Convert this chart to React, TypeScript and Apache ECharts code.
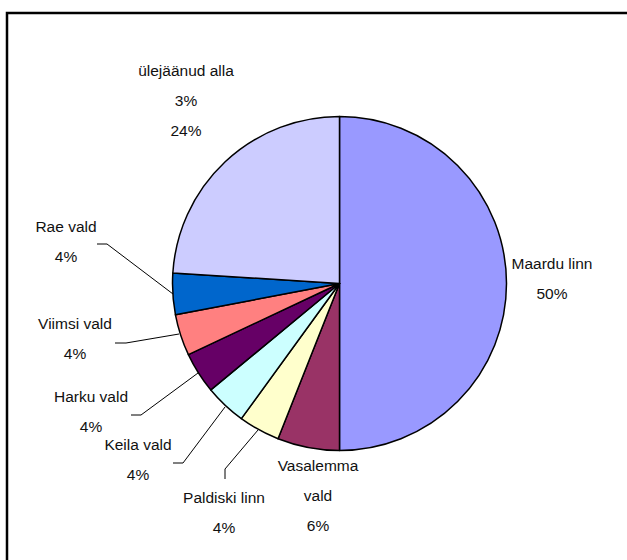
import React, { useEffect, useRef } from "react";
import * as echarts from "echarts";

const categories = [
  "Maardu linn",
  "Vasalemma vald",
  "Paldiski linn",
  "Keila vald",
  "Harku vald",
  "Viimsi vald",
  "Rae vald",
  "ülejäänud alla 3%",
];
const labelTexts = [
  "Maardu linn",
  "Vasalemma\nvald",
  "Paldiski linn",
  "Keila vald",
  "Harku vald",
  "Viimsi vald",
  "Rae vald",
  "ülejäänud alla\n3%",
];
const values = [50, 6, 4, 4, 4, 4, 4, 24];
const colors = ["#9999FF", "#993366", "#FFFFCC", "#CCFFFF", "#660066", "#FF8080", "#0066CC", "#CCCCFF"];

// label placement (center x, top y) and leader lines
const labelPos: [number, number][] = [
  [552, 248],
  [318, 450],
  [224, 482],
  [138, 429],
  [91, 381],
  [75, 308],
  [66, 211],
  [186, 55],
];
const leaderLines: ([number, number][] | null)[] = [
  null,
  null,
  [[225, 479], [225, 469], [258, 430]],
  [[173, 463], [183, 463], [225, 407]],
  [[131, 415], [141, 415], [198, 373]],
  [[115, 343], [126, 343], [179, 334]],
  [[97, 244], [107, 244], [173, 294]],
  null,
];

export default function App() {
  const ref = useRef<HTMLDivElement>(null);
  useEffect(() => {
    if (!ref.current) return;
    const chart = echarts.init(ref.current, null, { renderer: "svg" });
    chart.setOption({
      animation: false,
      backgroundColor: "#ffffff",
      graphic: [
        {
          type: "rect",
          shape: { x: 7, y: 13, width: 700, height: 700 },
          style: { fill: "none", stroke: "#000", lineWidth: 2.5 },
          z: 100,
        },
      ],
      series: [
        {
          type: "pie",
          center: [339.5, 283.5],
          radius: 167,
          startAngle: 90,
          clockwise: true,
          avoidLabelOverlap: false,
          itemStyle: { borderColor: "#000", borderWidth: 1.5 },
          label: {
            show: true,
            color: "#111",
            fontFamily: "'Liberation Sans', Arial, sans-serif",
            fontSize: 15.5,
            lineHeight: 30,
            align: "center",
            formatter: (p: any) => labelTexts[p.dataIndex] + "\n" + Math.round(p.percent) + "%",
          },
          labelLine: { show: true, lineStyle: { color: "#000", width: 1 } },
          labelLayout: (p: any) => {
            const i = p.dataIndex;
            const res: any = {
              x: labelPos[i][0],
              y: labelPos[i][1],
              align: "center",
              verticalAlign: "top",
            };
            if (leaderLines[i]) res.labelLinePoints = leaderLines[i];
            return res;
          },
          emphasis: { disabled: true },
          data: categories.map((c, i) => ({
            name: c,
            value: values[i],
            itemStyle: { color: colors[i] },
            labelLine: { show: leaderLines[i] !== null },
          })),
        },
      ],
    });
    return () => chart.dispose();
  }, []);
  return (
    <div
      ref={ref}
      style={{ position: "fixed", left: 0, top: 0, width: 627, height: 560 }}
    />
  );
}
